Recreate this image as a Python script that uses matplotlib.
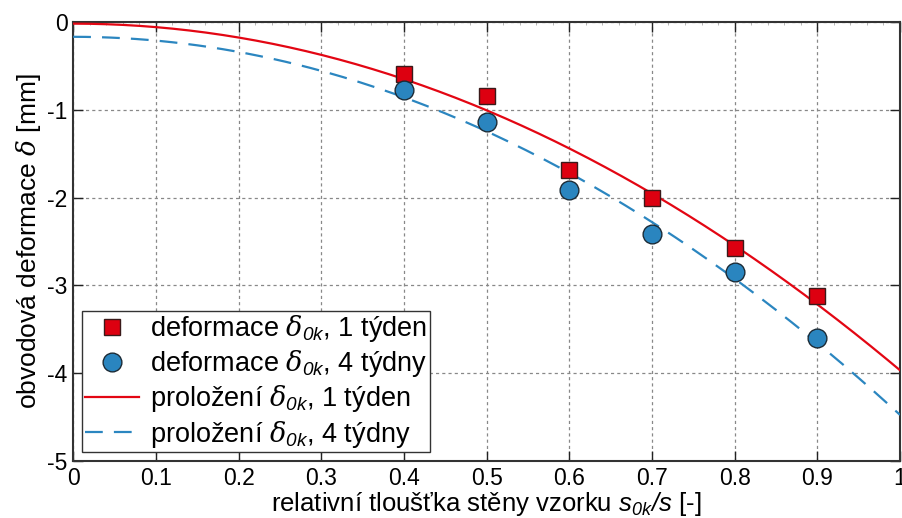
import numpy as np
import matplotlib
matplotlib.use("Agg")
import matplotlib.pyplot as plt
from matplotlib.ticker import MultipleLocator

plt.rcParams['font.family'] = ['Liberation Sans', 'DejaVu Sans']
plt.rcParams['mathtext.fontset'] = 'custom'
plt.rcParams['mathtext.it'] = 'DejaVu Serif:italic'
plt.rcParams['mathtext.rm'] = 'Liberation Sans'
plt.rcParams['mathtext.sf'] = 'Liberation Sans:italic'

# measured deformation vs. relative wall thickness
s_rel = [0.4, 0.5, 0.6, 0.7, 0.8, 0.9]
delta_1w = [-0.59, -0.84, -1.69, -2.00, -2.57, -3.12]
delta_4w = [-0.77, -1.14, -1.91, -2.41, -2.85, -3.60]

x_ticks = [0, 0.1, 0.2, 0.3, 0.4, 0.5, 0.6, 0.7, 0.8, 0.9, 1]
x_ticklabels = ['0', '0.1', '0.2', '0.3', '0.4', '0.5', '0.6', '0.7', '0.8', '0.9', '1']
y_ticks = [0, -1, -2, -3, -4, -5]
y_ticklabels = ['0', '-1', '-2', '-3', '-4', '-5']


def fit_quad(x, y):
    # least squares fit y = a*x^2 + c
    x2 = np.asarray(x) ** 2
    a, c = np.polyfit(x2, y, 1)
    return a, c


xx = np.linspace(0, 1, 200)
a1, c1 = fit_quad(s_rel, delta_1w)
a4, c4 = fit_quad(s_rel, delta_4w)

fig = plt.figure(figsize=(9.03, 5.18), dpi=100)
ax = fig.add_axes([0.081, 0.11, 0.9157, 0.8475])

red = '#e30613'
blue = '#2b86c0'

ax.plot(s_rel, delta_1w, 's', ms=11, mfc='#dd0010', mec='#3a1a1a', mew=1.0,
        zorder=4, label=r'deformace $\delta_{\mathsf{0k}}$, 1 týden')
ax.plot(s_rel, delta_4w, 'o', ms=13.5, mfc='#2a85bf', mec='#1c2b36', mew=1.0,
        zorder=4, label=r'deformace $\delta_{\mathsf{0k}}$, 4 týdny')
ax.plot(xx, a1 * xx ** 2 + c1, '-', color=red, lw=1.6, zorder=3,
        label=r'proložení $\delta_{\mathsf{0k}}$, 1 týden')
ax.plot(xx, a4 * xx ** 2 + c4, '--', color=blue, lw=1.6, dashes=(8, 5), zorder=3,
        label=r'proložení $\delta_{\mathsf{0k}}$, 4 týdny')

ax.set_xlim(0, 1)
ax.set_ylim(-5, 0)
ax.set_xticks(x_ticks)
ax.set_xticklabels(x_ticklabels)
ax.set_yticks(y_ticks)
ax.set_yticklabels(y_ticklabels)
ax.xaxis.set_minor_locator(MultipleLocator(0.02))
ax.tick_params(which='major', direction='in', length=7, width=1.0,
               top=True, right=True, labelsize=16.5, colors='#222222',
               pad=4)
ax.tick_params(which='minor', direction='in', length=2, width=0.5,
               top=True, bottom=False, colors='#999999')
ax.tick_params(axis='y', which='minor', left=False, right=False)
for tl in ax.get_xticklabels() + ax.get_yticklabels():
    tl.set_color('black')

ax.grid(True, which='major', linestyle=(0, (2.5, 2.5)), color='#888888', lw=0.9)
for sp in ax.spines.values():
    sp.set_linewidth(1.5)
    sp.set_color('#333333')

ax.set_xlabel(r'relativní tloušťka stěny vzorku $\mathsf{s_{0k}/s}$ [-]',
              fontsize=18.5, labelpad=0)
ax.set_ylabel(r'obvodová deformace $\delta$ [mm]', fontsize=19, labelpad=3)

leg = ax.legend(loc='lower left', bbox_to_anchor=(0.011, 0.02), fontsize=19.5,
                frameon=True, fancybox=False, edgecolor='#333333',
                handlelength=2.0, handletextpad=0.4, borderpad=0.1,
                labelspacing=0.15, numpoints=1, borderaxespad=0)
leg.get_frame().set_linewidth(1.0)
leg.get_frame().set_alpha(1)

fig.savefig('out.png', dpi=100)
